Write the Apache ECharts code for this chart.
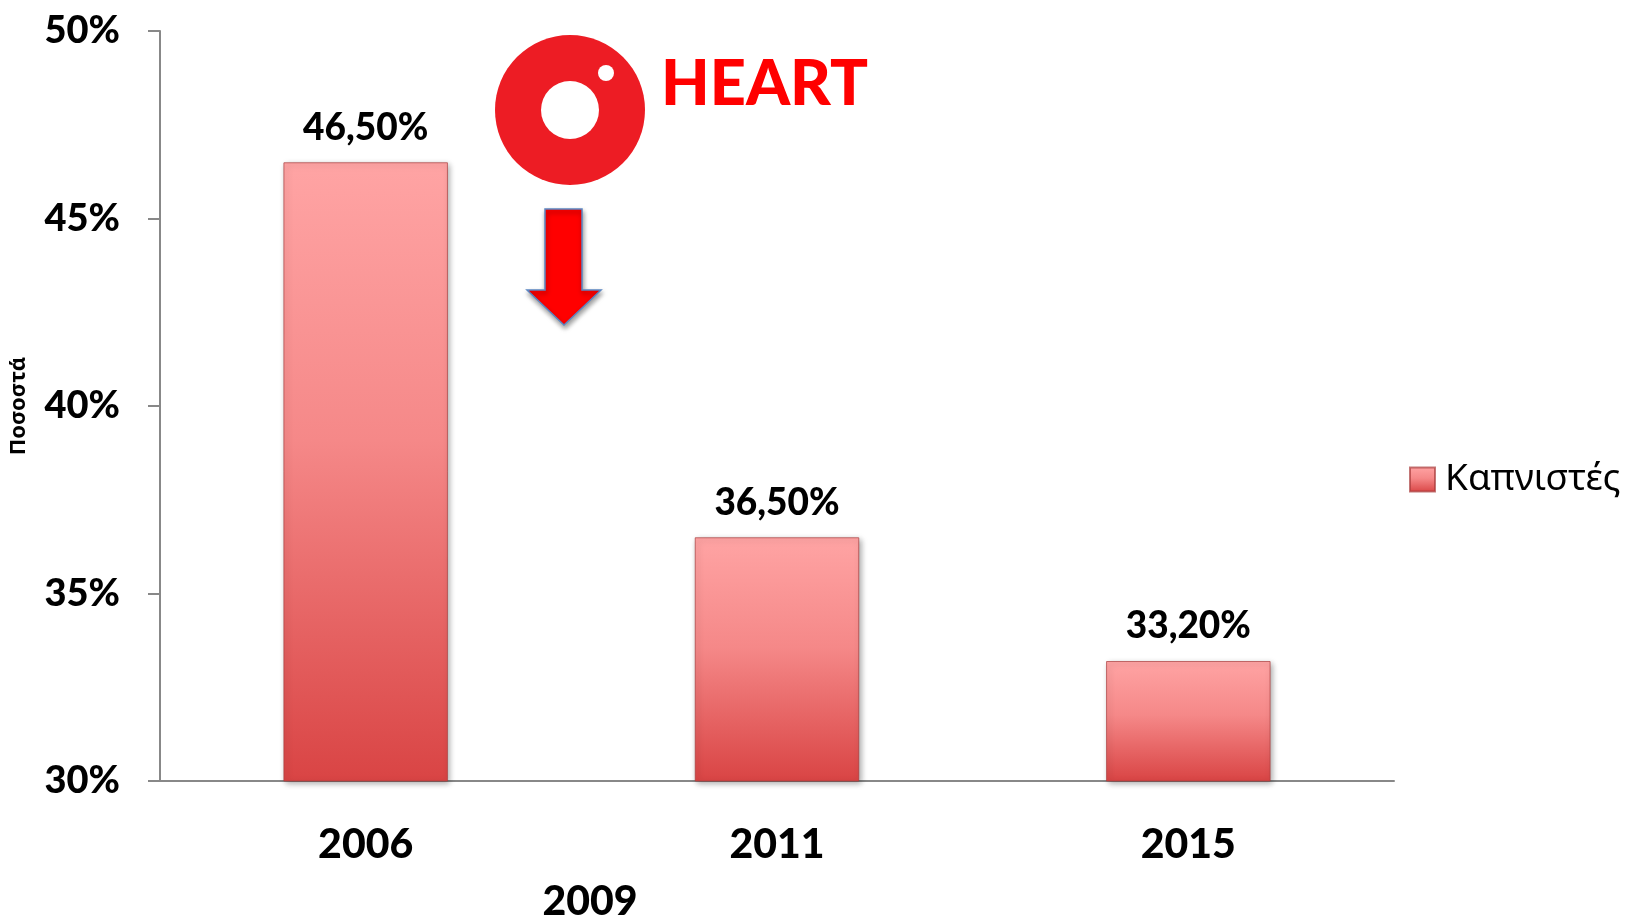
<!DOCTYPE html>
<html>
<head>
<meta charset="utf-8">
<script src="https://cdn.jsdelivr.net/npm/echarts@6/dist/echarts.min.js"></script>
<style>html,body{margin:0;padding:0;background:#fff}#c{width:1625px;height:918px}</style>
</head>
<body>
<div id="c"></div>
<script>
const categories = ['2006', '2011', '2015'];
const smokers = [46.5, 36.5, 33.2];
const seriesName = 'Καπνιστές';
const yAxisName = 'Ποσοστά';
const annotationYear = '2009';
const logoText = 'HEART';

const chart = echarts.init(document.getElementById('c'));
const barGradient = new echarts.graphic.LinearGradient(0, 0, 0, 1, [
  {offset: 0, color: '#FFA4A4'},
  {offset: 0.45, color: '#F58888'},
  {offset: 1, color: '#D94444'}
]);
chart.setOption({
  animation: false,
  grid: {left: 160, right: 231, top: 31, bottom: 137},
  legend: {
    orient: 'vertical', left: 1404, top: 456,
    itemWidth: 25, itemHeight: 24, icon: 'rect',
    textStyle: {fontFamily: 'Noto Sans', fontSize: 37, color: '#000', padding: [0, 0, 0, 5]},
    data: [seriesName]
  },
  xAxis: {
    type: 'category', data: categories,
    axisLine: {lineStyle: {color: '#888', width: 2}},
    axisTick: {show: false},
    axisLabel: {margin: 43, fontFamily: 'Lato', fontWeight: 900, fontSize: 41, color: '#000'}
  },
  yAxis: {
    type: 'value', min: 30, max: 50, interval: 5,
    name: yAxisName, nameLocation: 'middle', nameRotate: 90, nameGap: 130,
    nameTextStyle: {fontFamily: 'Noto Sans', fontWeight: 'bold', fontSize: 22, color: '#000'},
    axisLine: {show: true, lineStyle: {color: '#888', width: 2}},
    axisTick: {show: true, length: 12, lineStyle: {color: '#888', width: 2}},
    splitLine: {show: false},
    axisLabel: {margin: 40, formatter: '{value}%', fontFamily: 'Lato', fontWeight: 900, fontSize: 38, color: '#000'}
  },
  series: [{
    name: seriesName, type: 'bar', data: smokers, barWidth: '40%',
    itemStyle: {
      color: barGradient,
      borderColor: 'rgba(170,60,60,0.7)', borderWidth: 1,
      shadowBlur: 6, shadowColor: 'rgba(0,0,0,0.35)', shadowOffsetX: 2, shadowOffsetY: 2
    },
    label: {
      show: true, position: 'top', distance: 16,
      formatter: p => p.value.toFixed(2).replace('.', ',') + '%',
      fontFamily: 'Lato', fontWeight: 900, fontSize: 37, color: '#000'
    }
  }],
  graphic: [
    {type: 'circle', shape: {cx: 570, cy: 110, r: 75}, style: {fill: '#ED1C24'}},
    {type: 'circle', shape: {cx: 570, cy: 110, r: 29}, style: {fill: '#fff'}},
    {type: 'circle', shape: {cx: 606, cy: 73, r: 8}, style: {fill: '#fff'}},
    {type: 'text', left: 661, top: 53, style: {text: logoText, fontFamily: 'Lato', fontWeight: 900, fontSize: 63, fill: '#FF0000'}},
    {type: 'polygon', shape: {points: [[545, 209], [582, 209], [582, 290], [601, 290], [564, 325], [527, 290], [545, 290]]},
     style: {fill: '#FF0000', stroke: '#5B86C2', lineWidth: 1.5, shadowBlur: 5, shadowColor: 'rgba(0,0,0,0.4)', shadowOffsetX: 1, shadowOffsetY: 3}},
    {type: 'text', x: 590, y: 902, style: {text: annotationYear, align: 'center', verticalAlign: 'middle', fontFamily: 'Lato', fontWeight: 900, fontSize: 41, fill: '#000'}}
  ]
});
</script>
</body>
</html>
